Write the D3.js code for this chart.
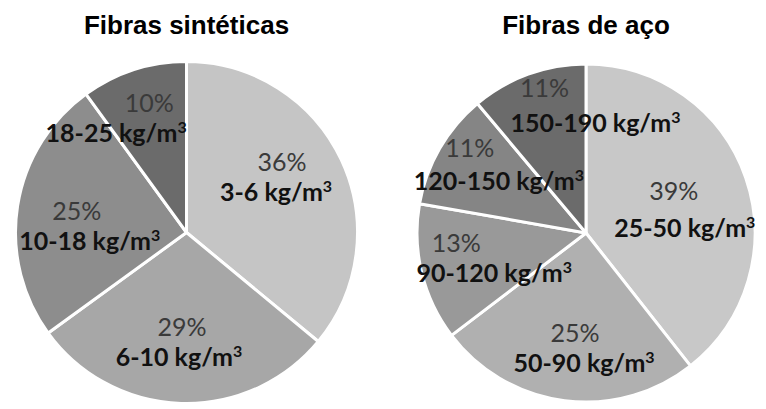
<!DOCTYPE html>
<html>
<head>
<meta charset="utf-8">
<script src="https://cdn.jsdelivr.net/npm/d3@7"></script>
<style>
  html, body { margin: 0; padding: 0; background: #fff; }
  svg { display: block; }
</style>
</head>
<body>
<svg id="chart" width="766" height="409"></svg>
<script>
// ---- Data ----
const titles = ["Fibras sintéticas", "Fibras de aço"];

const syntheticRanges = ["3-6", "6-10", "10-18", "18-25"];
const syntheticValues = [36, 29, 25, 10];

const steelRanges = ["25-50", "50-90", "90-120", "120-150", "150-190"];
const steelValues = [39, 25, 13, 11, 11];

// ---- Styling / layout (not data) ----
const syntheticColors = ["#c5c5c5", "#a7a7a7", "#8d8d8d", "#6b6b6b"];
const steelColors = ["#c8c8c8", "#b0b0b0", "#999999", "#858585", "#6b6b6b"];

// label offsets relative to arc centroid: [pctDx, pctDy, lblDx, lblDy]
const syntheticLabelOffsets = [
  [-5, -14, -11, 16],
  [-1, -8, -4, 22],
  [0, 5, 13, 35],
  [-3, -15, -36, 15]
];
const steelLabelOffsets = [
  [-16, 3, -5, 40],
  [3, 0, 12, 30],
  [-23, -7, 15, 23],
  [-21, -21, 8, 12],
  [-4, -33, 47, 2]
];

const pies = [
  { title: titles[0], ranges: syntheticRanges, values: syntheticValues, colors: syntheticColors,
    offsets: syntheticLabelOffsets, cx: 186.5, cy: 232.5, r: 171 },
  { title: titles[1], ranges: steelRanges, values: steelValues, colors: steelColors,
    offsets: steelLabelOffsets, cx: 586, cy: 233, r: 169 }
];

const svg = d3.select("#chart");

pies.forEach(p => {
  const g = svg.append("g").attr("transform", `translate(${p.cx},${p.cy})`);

  const pie = d3.pie().sort(null).value(d => d)(p.values);
  const arc = d3.arc().innerRadius(0).outerRadius(p.r);
  const labelArc = d3.arc().innerRadius(p.r * 0.65).outerRadius(p.r * 0.65);

  g.selectAll("path.slice")
    .data(pie)
    .join("path")
    .attr("class", "slice")
    .attr("d", arc)
    .attr("fill", (d, i) => p.colors[i])
    .attr("stroke", "#ffffff")
    .attr("stroke-width", 3)
    .attr("stroke-linejoin", "round");

  // title
  svg.append("text")
    .attr("x", p.cx)
    .attr("y", 34)
    .attr("text-anchor", "middle")
    .attr("font-family", "'Liberation Sans', Arial, sans-serif")
    .attr("font-weight", "bold")
    .attr("font-size", 26)
    .attr("fill", "#000")
    .text(p.title);

  pie.forEach((d, i) => {
    const [x, y] = labelArc.centroid(d);
    const o = p.offsets[i];
    g.append("text")
      .attr("x", x + o[0])
      .attr("y", y + o[1])
      .attr("text-anchor", "middle")
      .attr("font-family", "Lato, 'Open Sans', sans-serif")
      .attr("font-size", 25)
      .attr("fill", "#3a3a3a")
      .text(p.values[i] + "%");

    const t = g.append("text")
      .attr("x", x + o[2])
      .attr("y", y + o[3])
      .attr("text-anchor", "middle")
      .attr("font-family", "Lato, 'Open Sans', sans-serif")
      .attr("font-weight", "bold")
      .attr("font-size", 25)
      .attr("fill", "#111");
    t.append("tspan").text(p.ranges[i] + " kg/m");
    t.append("tspan").attr("dy", -9).attr("font-size", 16).text("3");
  });
});
</script>
</body>
</html>
